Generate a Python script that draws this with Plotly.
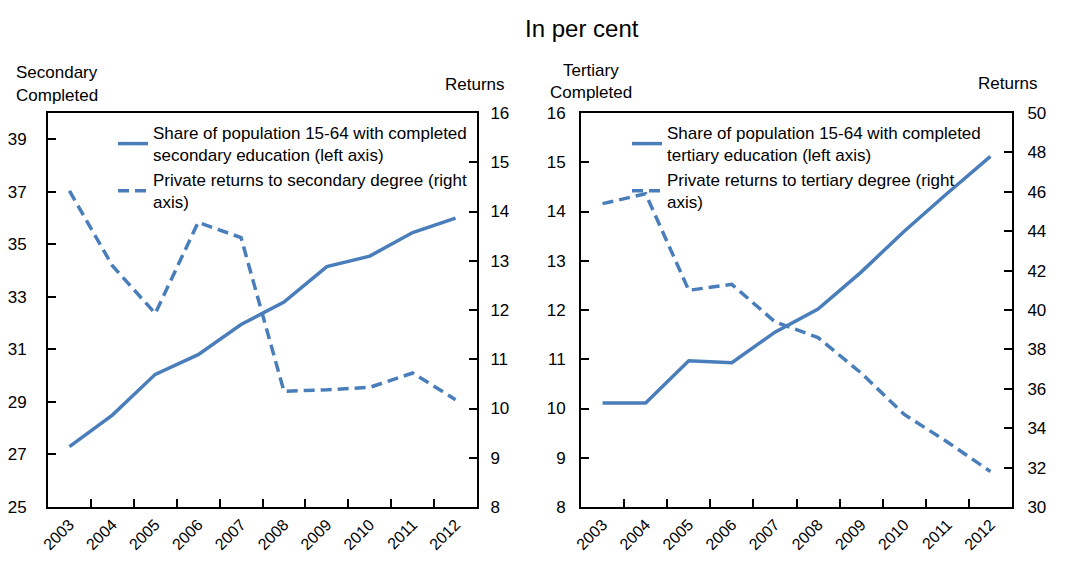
import plotly.graph_objects as go

years = ["2003", "2004", "2005", "2006", "2007", "2008", "2009", "2010", "2011", "2012"]

# Left panel: secondary education
sec_completed = [27.3, 28.5, 30.05, 30.8, 31.95, 32.8, 34.15, 34.55, 35.45, 36.0]
sec_returns = [14.42, 12.9, 11.93, 13.78, 13.47, 10.35, 10.38, 10.43, 10.72, 10.18]

# Right panel: tertiary education
ter_completed = [10.11, 10.11, 10.97, 10.93, 11.55, 12.02, 12.77, 13.6, 14.37, 15.12]
ter_returns = [45.4, 45.9, 41.0, 41.3, 39.4, 38.6, 36.8, 34.7, 33.3, 31.8]

# page body has an 8px margin; figure fills the rest of the 1068x561 window
OFF = 8
W, H = 1068 - 2 * OFF, 561 - 2 * OFF
BLUE = "#4A7EBB"
FONT = "Liberation Sans, Arial, sans-serif"
FS = 17

def px(x):
    return (x - OFF) / W

def py(y):
    return 1 - (y - OFF) / H

fig = go.Figure()

fig.add_trace(go.Scatter(
    x=years, y=sec_completed, mode="lines", xaxis="x", yaxis="y",
    name="Share of population 15-64 with completed<br>secondary education (left axis)",
    line=dict(color=BLUE, width=3.5), legend="legend"))
fig.add_trace(go.Scatter(
    x=years, y=sec_returns, mode="lines", xaxis="x", yaxis="y2",
    name="Private returns to secondary degree (right<br>axis)",
    line=dict(color=BLUE, width=3.5, dash="11px,6px"), legend="legend"))
fig.add_trace(go.Scatter(
    x=years, y=ter_completed, mode="lines", xaxis="x2", yaxis="y3",
    name="Share of population 15-64 with completed<br>tertiary education (left axis)",
    line=dict(color=BLUE, width=3.5), legend="legend2"))
fig.add_trace(go.Scatter(
    x=years, y=ter_returns, mode="lines", xaxis="x2", yaxis="y4",
    name="Private returns to tertiary degree (right<br>axis)",
    line=dict(color=BLUE, width=3.5, dash="11px,6px"), legend="legend2"))

axis_common = dict(showline=True, linecolor="black", linewidth=2, ticks="inside",
                   ticklen=8, tickwidth=1.5, tickcolor="black", showgrid=False,
                   zeroline=False, automargin=False,
                   tickfont=dict(family=FONT, size=FS, color="black"))

xcommon = dict(axis_common, type="category", tickson="boundaries", tickangle=-45,
               mirror=True, range=[-0.5, 9.5],
               tickfont=dict(family=FONT, size=16, color="black"))

fig.update_layout(
    width=W, height=H,
    margin=dict(l=0, r=0, t=0, b=0),
    paper_bgcolor="white", plot_bgcolor="white",
    font=dict(family=FONT, size=FS, color="black"),
    showlegend=True,
    xaxis=dict(xcommon, domain=[px(48), px(477)], anchor="y"),
    yaxis=dict(axis_common, domain=[py(507), py(113)], range=[25, 40],
               tickvals=[25, 27, 29, 31, 33, 35, 37, 39], anchor="x",
               ticklabelstandoff=16),
    yaxis2=dict(axis_common, range=[8, 16], dtick=1, overlaying="y", side="right",
                anchor="x", ticklabelstandoff=8),
    xaxis2=dict(xcommon, domain=[px(581), px(1012)], anchor="y3"),
    yaxis3=dict(axis_common, domain=[py(507), py(113)], range=[8, 16], dtick=1,
                anchor="x2", ticklabelstandoff=10),
    yaxis4=dict(axis_common, range=[30, 50], dtick=2, overlaying="y3", side="right",
                anchor="x2", ticklabelstandoff=10),
    legend=dict(x=px(113), y=py(115), xanchor="left", yanchor="top",
                bgcolor="rgba(0,0,0,0)", font=dict(family=FONT, size=FS),
                tracegroupgap=0),
    legend2=dict(x=px(627), y=py(115), xanchor="left", yanchor="top",
                 bgcolor="rgba(0,0,0,0)", font=dict(family=FONT, size=FS),
                 tracegroupgap=0),
)

annots = [
    dict(text="In per cent", x=px(582), y=py(28),
         font=dict(family=FONT, size=24, color="black")),
    dict(text="Secondary", x=px(14), y=py(72), xanchor="left"),
    dict(text="Completed", x=px(14), y=py(95), xanchor="left"),
    dict(text="Returns", x=px(475), y=py(85)),
    dict(text="Tertiary", x=px(591), y=py(70)),
    dict(text="Completed", x=px(591), y=py(93)),
    dict(text="Returns", x=px(1008), y=py(83)),
]
for a in annots:
    a.setdefault("xanchor", "center")
    a.setdefault("font", dict(family=FONT, size=FS, color="black"))
    fig.add_annotation(xref="paper", yref="paper", yanchor="middle",
                       showarrow=False, **a)

fig.write_html("out.html")
